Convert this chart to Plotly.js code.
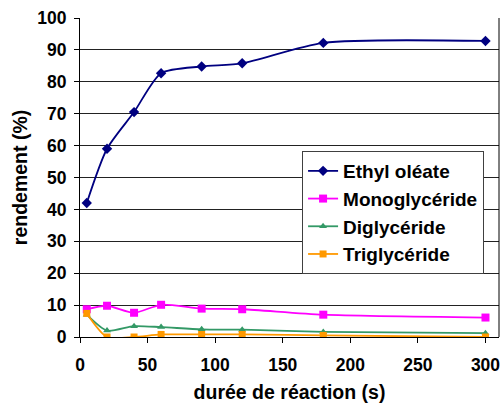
<!DOCTYPE html>
<html><head><meta charset="utf-8">
<script src="https://cdn.plot.ly/plotly-3.0.1.min.js"></script>
<style>html,body{margin:0;padding:0;background:#fff}#c{width:502px;height:403px}</style>
</head><body><div id="c"></div>
<script>
const temps = [5, 20, 40, 60, 90, 120, 180, 300];
const ethylOleate = [42, 59, 70.5, 82.7, 84.8, 85.8, 92.2, 92.8];
const monoglyceride = [8.7, 9.8, 7.6, 10.1, 8.9, 8.7, 7.0, 6.1];
const diglyceride = [7.0, 2.0, 3.4, 3.1, 2.4, 2.3, 1.6, 1.2];
const triglyceride = [7.4, 0, 0, 0.8, 0.8, 0.8, 0.5, 0];
const seriesNames = ['Ethyl oléate', 'Monoglycéride', 'Diglycéride', 'Triglycéride'];
const xTicks = [0, 50, 100, 150, 200, 250, 300];
const yTicks = [0, 10, 20, 30, 40, 50, 60, 70, 80, 90, 100];

const font = {family: 'Liberation Sans', color: '#000', weight: 700};
const f = s => Object.assign({size: s}, font);
function tr(y, name, color, symbol, size) {
  return {x: temps, y: y, name: name, type: 'scatter', mode: 'lines+markers',
    line: {color: color, width: 1.8, shape: 'spline', smoothing: 0.7},
    marker: {color: color, symbol: symbol, size: size}};
}
const data = [
  tr(ethylOleate, seriesNames[0], '#000080', 'diamond', 8),
  tr(monoglyceride, seriesNames[1], '#FF00FF', 'square', 8),
  tr(diglyceride, seriesNames[2], '#339966', 'triangle-up', 7),
  tr(triglyceride, seriesNames[3], '#FF9900', 'square', 7)
];
const layout = {
  width: 502, height: 403,
  margin: {l: 79.5, r: 3, t: 18, b: 66},
  paper_bgcolor: '#fff', plot_bgcolor: '#fff',
  font: f(17),
  showlegend: true,
  legend: {x: 0.53, y: 0.583, xanchor: 'left', yanchor: 'top',
    bgcolor: '#fff', bordercolor: '#404040', borderwidth: 1,
    font: f(19), tracegroupgap: 0, itemwidth: 30},
  xaxis: {range: [0, 310], tickvals: xTicks,
    showgrid: false, zeroline: false, showline: true, linecolor: '#000', linewidth: 1,
    ticks: 'outside', ticklen: 5, tickcolor: '#000', ticklabelstandoff: 7,
    tickfont: f(17.5),
    title: {text: 'durée de réaction (s)', standoff: 12, font: f(19.5)}},
  yaxis: {range: [0, 100], tickvals: yTicks,
    showgrid: true, gridcolor: '#222', gridwidth: 1,
    zeroline: false, showline: true, linecolor: '#000', linewidth: 1,
    ticks: 'outside', ticklen: 5, tickcolor: '#000', ticklabelstandoff: 4,
    tickfont: f(17.5),
    title: {text: 'rendement (%)', standoff: 4, font: f(19.5)}},
  shapes: [{type: 'line', xref: 'paper', yref: 'paper', x0: 1, x1: 1, y0: 0, y1: 1, line: {color: '#000', width: 1}}]
};
Plotly.newPlot('c', data, layout, {displayModeBar: false, staticPlot: true});
</script></body></html>
